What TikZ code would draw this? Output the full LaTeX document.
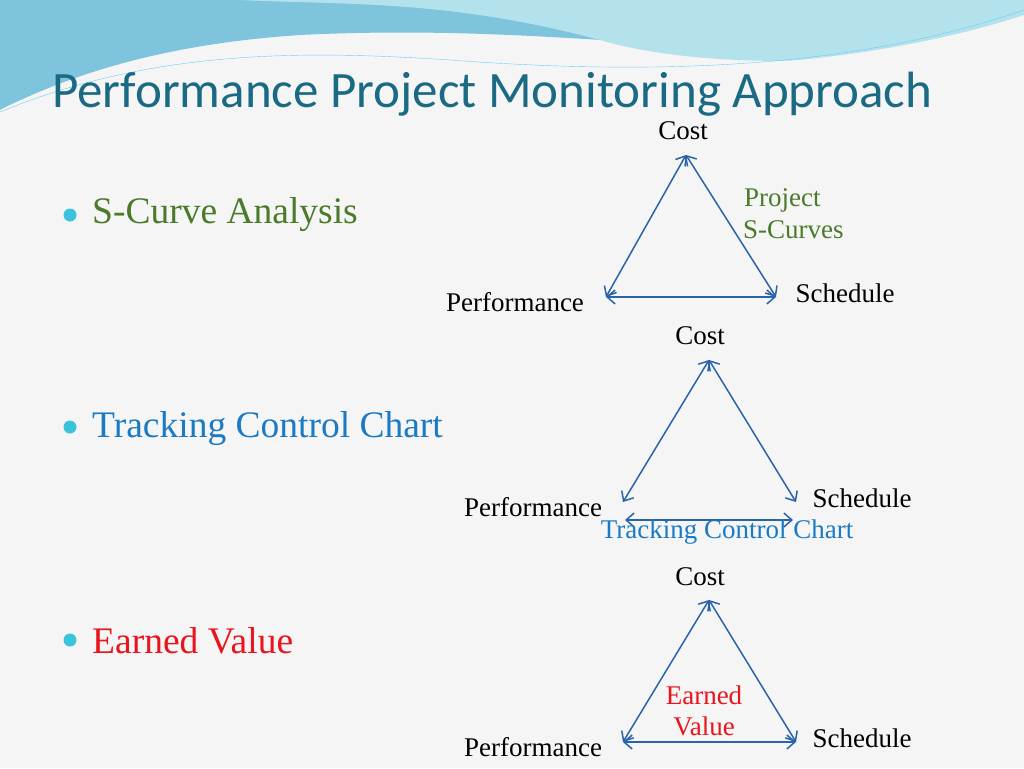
\documentclass[tikz,border=0pt]{standalone}
\usepackage{fontspec}
\setmainfont{Liberation Serif}
\newfontfamily\titlefont{Carlito}
\usetikzlibrary{arrows.meta}
\definecolor{titleblue}{HTML}{1A6A84}
\definecolor{linkblue}{HTML}{2A64A8}
\definecolor{bulletcyan}{HTML}{3CC3DC}
\definecolor{sgreen}{HTML}{4A7A2A}
\definecolor{tblue}{HTML}{1A7BC4}
\definecolor{ered}{HTML}{E8141E}
\definecolor{swoosh}{HTML}{7EC4DC}
\definecolor{swooshlight}{HTML}{B4E2EC}
\begin{document}
\begin{tikzpicture}[x=1pt, y=-1pt, font=\fontsize{27}{29}\selectfont]
    \tikzstyle{side} = [{Straight Barb[length=8pt,width=14pt]}-{Straight Barb[length=8pt,width=14pt]}, linkblue, line width=1.5pt]
    \tikzstyle{lbl} = [inner sep=0pt]
    \tikzstyle{bullet} = [circle, fill=bulletcyan, inner sep=0pt, minimum size=13pt]
    \tikzstyle{topic} = [anchor=west, inner sep=0pt, font=\fontsize{37.5}{40}\selectfont]

    % background and top swoosh
    \fill[white!96!black] (0,0) rectangle (1024,768);
    \useasboundingbox (0,0) rectangle (1024,768);
    \fill[swoosh] (0,0) -- (1024,0) -- (1024,30) .. controls (800,80) and (600,20) .. (300,35) .. controls (150,45) and (60,80) .. (0,110) -- cycle;
    \fill[swooshlight] (240,0) -- (1024,0) -- (1024,25) .. controls (900,70) and (700,70) .. (600,40) .. controls (450,0) and (350,5) .. (240,0) -- cycle;
    \fill[white!96!black] (0,110) .. controls (80,70) and (200,40) .. (350,45) .. controls (500,50) and (650,70) .. (800,60) .. controls (900,50) and (980,30) .. (1024,15) -- (1024,40) .. controls (900,80) and (700,90) .. (500,80) .. controls (300,70) and (100,90) .. (0,130) -- cycle;
    \draw[cyan!60, thin] (0,112) .. controls (150,50) and (300,50) .. (450,60) .. controls (650,75) and (850,70) .. (1024,10);

    % title
    \node[anchor=base west, inner sep=0pt, text=titleblue, font=\titlefont\fontsize{51}{54}\selectfont] (title) at (52,107) {Performance Project Monitoring Approach};

    % bullets
    \node[bullet] (b1) at (70,215) {};
    \node[bullet] (b2) at (70,427) {};
    \node[bullet] (b3) at (70,640) {};
    \node[topic, text=sgreen] (t1) at (92,215) {S-Curve Analysis};
    \node[topic, text=tblue] (t2) at (92,429) {Tracking Control Chart};
    \node[topic, text=ered] (t3) at (92,641) {Earned Value};

    % ---------------------------------------

    \coordinate (cA) at (686,155);
    \coordinate (pA) at (606,297);
    \coordinate (sA) at (776,297);
    \draw[side] (cA) -- (pA);
    \draw[side] (cA) -- (sA);
    \draw[side] (pA) -- (sA);
    \node[lbl] (costA) at (683,131) {Cost};
    \node[lbl] (perfA) at (515,302) {Performance};
    \node[lbl] (schedA) at (845,293) {Schedule};
    \node[lbl, anchor=west, text=sgreen] (projA) at (744,200) {Project};
    \node[lbl, anchor=west, text=sgreen] (scurA) at (743,230) {S-Curves};

    % ---------------------------------------

    \coordinate (cB) at (709,360);
    \coordinate (pB) at (623,502);
    \coordinate (sB) at (796,502);
    \coordinate (pB2) at (625,520);
    \coordinate (sB2) at (793,520);
    \draw[side] (cB) -- (pB);
    \draw[side] (cB) -- (sB);
    \draw[side] (pB2) -- (sB2);
    \node[lbl] (costB) at (700,336) {Cost};
    \node[lbl] (perfB) at (533,507) {Performance};
    \node[lbl] (schedB) at (862,498) {Schedule};
    \node[lbl, text=tblue] (tccB) at (727,532) {Tracking Control Chart};

    % ---------------------------------------

    \coordinate (cC) at (709,600);
    \coordinate (pC) at (623,742);
    \coordinate (sC) at (796,742);
    \draw[side] (cC) -- (pC);
    \draw[side] (cC) -- (sC);
    \draw[side] (pC) -- (sC);
    \node[lbl] (costC) at (700,577) {Cost};
    \node[lbl] (perfC) at (533,747) {Performance};
    \node[lbl] (schedC) at (862,738) {Schedule};
    \node[lbl, text=ered] (earnC) at (704,695) {Earned};
    \node[lbl, text=ered] (valC) at (704,726) {Value};

\end{tikzpicture}
\end{document}
